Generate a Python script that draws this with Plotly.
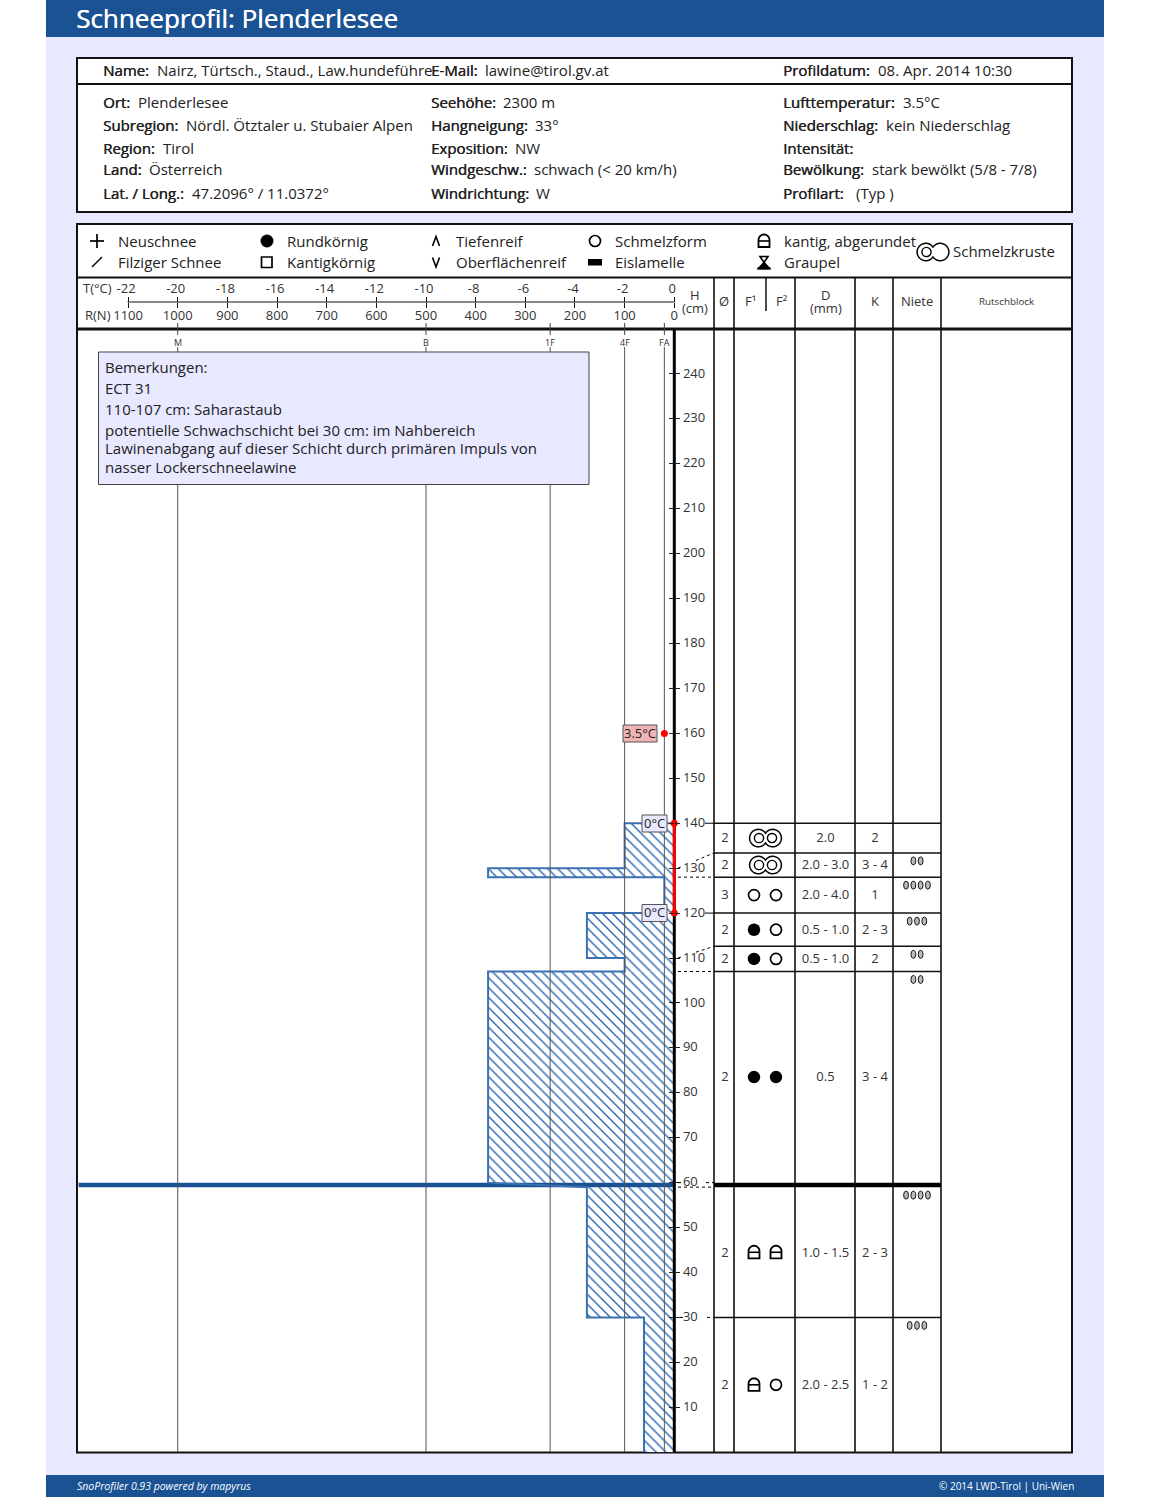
import math
import plotly.graph_objects as go

W, H = 1150, 1497
PAGE_BG = '#e8e8ff'; BLUE = '#1a5294'; INK = '#222222'; FONT = 'Open Sans'

# ---------- data ----------
layer_tops = [140, 130, 128, 120, 110, 107, 59, 30]
layer_bottoms = [130, 128, 120, 110, 107, 60, 30, 0]
layer_hardness = [100, 375, 20, 176, 100, 375, 176, 61]
lamella_top = [60]
lamella_bottom = [59]
lamella_hardness = [1200]

hardness_names = ['M', 'B', '1F', '4F', 'FA']
hardness_values = [1000, 500, 250, 100, 20]

temp_heights = [140, 120]
temp_values = [0, 0]
air_height = [160]
air_position = [-0.4]

row_tops = [140, 133.4, 128, 120, 112.6, 107, 59, 30]
row_bottoms = [133.4, 128, 120, 112.6, 107, 60, 30, 0]
row_diam = ['2', '2', '3', '2', '2', '2', '2', '2']
row_f1 = ['crust', 'crust', 'melt', 'round', 'round', 'round', 'facet', 'facet']
row_f2 = ['', '', 'melt', 'melt', 'melt', 'round', 'facet', 'melt']
row_d = ['2.0', '2.0 - 3.0', '2.0 - 4.0', '0.5 - 1.0', '0.5 - 1.0', '0.5', '1.0 - 1.5', '2.0 - 2.5']
row_k = ['2', '3 - 4', '1', '2 - 3', '2', '3 - 4', '2 - 3', '1 - 2']
row_niete = [0, 2, 4, 3, 2, 2, 4, 3]

r_ticks = [1100, 1000, 900, 800, 700, 600, 500, 400, 300, 200, 100, 0]
t_ticks = [-22, -20, -18, -16, -14, -12, -10, -8, -6, -4, -2, 0]
t_labels = ['-22', '-20', '-18', '-16', '-14', '-12', '-10', '-8', '-6', '-4', '-2', '0']
h_ticks = list(range(10, 250, 10))

remarks = ['Bemerkungen:', 'ECT 31', '110-107 cm: Saharastaub',
           'potentielle Schwachschicht bei 30 cm: im Nahbereich',
           'Lawinenabgang auf dieser Schicht durch primären Impuls von',
           'nasser Lockerschneelawine']
remark_y = [367, 388, 409, 430, 448, 467]

info = [
    (103, 71, 'Name:', 157, 'Nairz, Türtsch., Staud., Law.hundeführe'),
    (431, 71, 'E-Mail:', 485, 'lawine@tirol.gv.at'),
    (783, 71, 'Profildatum:', 878, '08. Apr. 2014 10:30'),
    (103, 103, 'Ort:', 138, 'Plenderlesee'),
    (103, 125, 'Subregion:', 186, 'Nördl. Ötztaler u. Stubaier Alpen'),
    (103, 148, 'Region:', 163, 'Tirol'),
    (103, 170, 'Land:', 149, 'Österreich'),
    (103, 193, 'Lat. / Long.:', 192, '47.2096° / 11.0372°'),
    (431, 103, 'Seehöhe:', 503, '2300 m'),
    (431, 125, 'Hangneigung:', 535, '33°'),
    (431, 148, 'Exposition:', 515, 'NW'),
    (431, 170, 'Windgeschw.:', 534, 'schwach (< 20 km/h)'),
    (431, 193, 'Windrichtung:', 536, 'W'),
    (783, 103, 'Lufttemperatur:', 903, '3.5°C'),
    (783, 125, 'Niederschlag:', 886, 'kein Niederschlag'),
    (783, 148, 'Intensität:', 860, ''),
    (783, 170, 'Bewölkung:', 872, 'stark bewölkt (5/8 - 7/8)'),
    (783, 193, 'Profilart:', 856, '(Typ )'),
]

legend_items = [
    (118, 241, 'Neuschnee'), (118, 262, 'Filziger Schnee'),
    (287, 241, 'Rundkörnig'), (287, 262, 'Kantigkörnig'),
    (456, 241, 'Tiefenreif'), (456, 262, 'Oberflächenreif'),
    (615, 241, 'Schmelzform'), (615, 262, 'Eislamelle'),
    (784, 241, 'kantig, abgerundet'), (784, 262, 'Graupel'),
    (953, 251, 'Schmelzkruste'),
]

# ---------- geometry ----------
Y0, PX_CM = 1452.2, 4.4926
PLOT_TOP, PLOT_L, PLOT_R = 330, 78.4, 674.3
PX_N = (PLOT_R - PLOT_L) / 1200
PAD = 4  # room right of zero so the axis line and temperature line are not clipped
TBL_L, TBL_R = 714, 941
COLS = [714, 734, 795, 855, 893, 941]
H_MAX = (Y0 - PLOT_TOP) / PX_CM
X_DIAM, X_F1, X_F2, X_D, X_K, X_N = 725, 754, 776, 825.5, 875, 917


def fx(px): return px / W
def fy(py): return 1 - py / H
def hpx(h): return Y0 - h * PX_CM


shapes, annos = [], []


def rect(x0, y0, x1, y1, fill=None, line=None, lw=1, layer='below'):
    shapes.append(dict(type='rect', xref='paper', yref='paper', x0=fx(x0), x1=fx(x1), y0=fy(y0), y1=fy(y1),
                       fillcolor=fill or 'rgba(0,0,0,0)', line=dict(color=line or 'rgba(0,0,0,0)', width=lw if line else 0),
                       layer=layer))


def line(x0, y0, x1, y1, color='black', lw=1, dash='solid', layer='above'):
    shapes.append(dict(type='line', xref='paper', yref='paper', x0=fx(x0), x1=fx(x1), y0=fy(y0), y1=fy(y1),
                       line=dict(color=color, width=lw, dash=dash), layer=layer))


def ellipse(cx, cy, rx, ry, fill=None, lcolor='black', lw=1.6):
    shapes.append(dict(type='circle', xref='paper', yref='paper', x0=fx(cx - rx), x1=fx(cx + rx), y0=fy(cy + ry),
                       y1=fy(cy - ry), fillcolor=fill or 'rgba(0,0,0,0)', line=dict(color=lcolor, width=lw), layer='above'))


def poly(pts, close=True, fill=None, lw=1.6, color='black'):
    d = 'M' + ' L'.join(f'{fx(a):.6f},{fy(b):.6f}' for a, b in pts) + (' Z' if close else '')
    shapes.append(dict(type='path', xref='paper', yref='paper', path=d,
                       fillcolor=fill or 'rgba(0,0,0,0)', line=dict(color=color, width=lw), layer='above'))


def txt(x, y, s, size=15, color=INK, anchor='left', bold=False, italic=False):
    font = dict(family=FONT, size=size, color=color)
    if bold: font['shadow'] = f'0.4px 0 0 {color}'
    if italic: font['style'] = 'italic'
    annos.append(dict(xref='paper', yref='paper', x=fx(x), y=fy(y), text=s, showarrow=False, font=font,
                      xanchor=anchor, yanchor='middle', borderpad=0, borderwidth=0))


def facet_round(cx, cy):
    pts = [(cx - 5.5, cy + 6), (cx + 5.5, cy + 6), (cx + 5.5, cy - 1)]
    for i in range(0, 13):
        a = i / 12 * math.pi
        pts.append((cx + 5.5 * math.cos(a), cy - 1 - 5.5 * math.sin(a)))
    pts.append((cx - 5.5, cy + 6))
    poly(pts, lw=1.8)
    line(cx - 5.5, cy, cx + 5.5, cy, lw=1.6)


def melt_crust(cx, cy, both=True):
    R, d, pts = 8.7, 7.2, []
    a0 = math.acos(d / R)
    n = 40
    for i in range(n + 1):
        a = -(math.pi - a0) + (2 * math.pi - 2 * a0) * i / n
        pts.append((cx + d + R * math.cos(a), cy + R * math.sin(a)))
    for i in range(n + 1):
        a = a0 + (2 * math.pi - 2 * a0) * i / n
        pts.append((cx - d + R * math.cos(a), cy + R * math.sin(a)))
    poly(pts, lw=1.5)
    ellipse(cx - 6.5, cy, 4.6, 4.6, lw=1.4)
    if both:
        ellipse(cx + 6.5, cy, 4.6, 4.6, lw=1.4)


# ---------- page furniture ----------
rect(46, 0, 1104, 1497, fill=PAGE_BG)
rect(46, 0, 1104, 37, fill=BLUE)
rect(46, 1475, 1104, 1497, fill=BLUE)
rect(77, 58, 1072, 212, fill='white', line='#111111', lw=2)
rect(77, 224, 1072, 1452.5, fill='white', line='#111111', lw=2)
line(77, 84, 1072, 84, color='#111111', lw=2, layer='below')
line(77, 277.5, 1072, 277.5, color='#111111', lw=2, layer='below')
line(77, 329, 1072, 329, color='#111111', lw=3, layer='below')
for c in COLS:
    line(c, 277, c, 1452, color='#111111', lw=1.6)
line(766, 277, 766, 311, color='#111111', lw=1.5)
line(127.6, 302, 674.3, 302, color='#111111', lw=1.2)

# row separators of the table, on the height axis
for t in sorted(set(row_tops) - {59}):
    shapes.append(dict(type='line', xref='paper', yref='y', x0=fx(TBL_L), x1=fx(TBL_R), y0=t, y1=t,
                       line=dict(color='#111111', width=1.5), layer='above'))
# ice lamella in the table
shapes.append(dict(type='rect', xref='paper', yref='y', x0=fx(TBL_L), x1=fx(TBL_R), y0=lamella_bottom[0], y1=lamella_top[0],
                   fillcolor='black', line=dict(width=0), layer='above'))


# connectors between axis and table; the part behind a height label is left out
def connector(h, r, spans, dash='3px,3px'):
    for a, b in spans:
        ya = h + (r - h) * (a - 678) / 36
        yb = h + (r - h) * (b - 678) / 36
        shapes.append(dict(type='line', xref='paper', yref='y', x0=fx(a), x1=fx(b), y0=ya, y1=yb,
                           line=dict(color='black', width=1, dash=dash), layer='above'))


connector(130, 133.4, [(678, 683), (696, 714)])
connector(110, 112.6, [(678, 683), (696, 714)])
connector(128, 128, [(678, 714)])
connector(107, 107, [(678, 714)])
connector(60, 60, [(678, 682), (706, 714)])
connector(59, 59, [(678, 714)])
connector(30, 30, [(680, 684), (707, 714)])
connector(120, 120, [(705, 714)], dash='solid')
connector(140, 140, [(705, 714)], dash='solid')

# ---------- header text ----------
txt(76, 18, 'Schneeprofil: Plenderlesee', size=26, color='white', bold=True)
for x, y, lab, vx, val in info:
    txt(x, y - 0.5, lab, size=15, bold=True)
    if val:
        txt(vx, y - 0.5, val, size=15)

# legend symbols
for x, y, s in legend_items:
    txt(x, y, s, size=15)
line(90, 241, 104, 241, lw=1.7); line(97, 234, 97, 248, lw=1.7)
line(92, 267, 102, 257, lw=1.4)
ellipse(267, 241, 6.2, 6.2, fill='black', lw=0.5)
rect(261.5, 257, 272, 267.5, line='black', lw=1.7, layer='above')
poly([(432.5, 246), (436, 236.5), (439.5, 246)], close=False, lw=1.6)
poly([(432.5, 257.5), (436, 267), (439.5, 257.5)], close=False, lw=1.6)
ellipse(595, 241, 5.5, 5.5, lw=1.7)
rect(588, 259, 602, 265.5, fill='black', layer='above')
facet_round(764, 241)
poly([(760, 256.5), (768, 256.5), (764, 262.5)], close=True, lw=1.6)
poly([(764, 262.5), (769.5, 268.5), (758.5, 268.5)], close=True, lw=1.6, fill='black')
line(757.5, 268.5, 770.5, 268.5, lw=2.2)
melt_crust(933, 252, both=False)

# axis header
HEAD = '#333333'
txt(83, 288, 'T(°C)', size=13, color=HEAD)
txt(85, 315, 'R(N)', size=13, color=HEAD)
txt(695, 294.5, 'H', size=13, anchor='center', color=HEAD)
txt(695, 307.5, '(cm)', size=13, anchor='center', color=HEAD)
txt(724, 301, 'Ø', size=13, anchor='center', color=HEAD)
txt(750, 301, 'F¹', size=13, anchor='center', color=HEAD)
txt(781, 301, 'F²', size=13, anchor='center', color=HEAD)
txt(825.5, 294.5, 'D', size=13, anchor='center', color=HEAD)
txt(825.5, 307.5, '(mm)', size=13, anchor='center', color=HEAD)
txt(875, 301, 'K', size=13, anchor='center', color=HEAD)
txt(917, 301, 'Niete', size=13, anchor='center', color=HEAD)
txt(1007, 301, 'Rutschblock', size=9.8, anchor='center', color=HEAD)

# hardness ticks
for n, v in zip(hardness_names, hardness_values):
    px = PLOT_R - v * PX_N
    line(px, 323, px, 335, color='#444444', lw=1)
    txt(px, 342, n, size=9, anchor='center', color=HEAD)

# remark box
rect(98.5, 352, 589, 484.5, fill=PAGE_BG, line='#444444', lw=1, layer='above')
for y, s in zip(remark_y, remarks):
    txt(105, y, s, size=15)

# footer
txt(77, 1485.5, 'SnoProfiler 0.93 powered by mapyrus', size=10.5, color='white', italic=True)
txt(1074, 1485.5, '© 2014 LWD-Tirol | Uni-Wien', size=10, color='white', anchor='right')

# temperature labels
for s, y, x0, x1, bg in [('3.5°C', 733.5, 623, 657, '#f0b4b4'), ('0°C', 823.5, 642, 667, PAGE_BG), ('0°C', 913, 642, 667, PAGE_BG)]:
    rect(x0, y - 8.5, x1, y + 8.5, fill=bg, line='#555555', lw=1, layer='above')
    txt((x0 + x1) / 2, y - 0.5, s, size=13, anchor='center')

# grain symbols drawn as outlines
rows_cy = [hpx((a + b) / 2) for a, b in zip(row_tops, row_bottoms)]
for g1, g2, cy in zip(row_f1, row_f2, rows_cy):
    if g1 == 'crust':
        melt_crust(765.5, cy)
    for g, x in ((g1, X_F1), (g2, X_F2)):
        if g == 'facet':
            facet_round(x, cy)

# niete
for n, t in zip(row_niete, row_tops):
    for i in range(n):
        cx = X_N + (i - (n - 1) / 2) * 7.3
        ellipse(cx, hpx(t) + 8, 2.4, 4, fill='#bbbbbb', lw=0.9)

# ---------- traces ----------
fig = go.Figure()

centers = [(a + b) / 2 for a, b in zip(layer_tops, layer_bottoms)]
widths = [a - b for a, b in zip(layer_tops, layer_bottoms)]
fig.add_trace(go.Bar(
    y=centers, x=layer_hardness, width=widths, orientation='h', base=0, showlegend=False,
    marker=dict(color='white', line=dict(width=0),
                pattern=dict(shape='\\', fgcolor='#1f5fae', bgcolor='white', fillmode='replace',
                             fgopacity=1, size=7, solidity=0.19)),
    xaxis='x', yaxis='y'))
fig.add_trace(go.Bar(
    y=[(lamella_top[0] + lamella_bottom[0]) / 2], x=lamella_hardness, width=[lamella_top[0] - lamella_bottom[0]],
    orientation='h', base=0, showlegend=False, marker=dict(color=BLUE, line=dict(width=0)), xaxis='x', yaxis='y'))

ox, oy = [0], [layer_tops[0]]
for t, b, r in zip(layer_tops, layer_bottoms, layer_hardness):
    ox += [r, r]
    oy += [t, b]
fig.add_trace(go.Scatter(x=ox, y=oy, mode='lines', line=dict(color='#3b70b2', width=2), showlegend=False,
                         xaxis='x', yaxis='y'))

for v in hardness_values:
    fig.add_trace(go.Scatter(x=[v, v], y=[0, (Y0 - 347) / PX_CM], mode='lines', line=dict(color='#555555', width=1),
                             showlegend=False, xaxis='x', yaxis='y'))

fig.add_trace(go.Scatter(x=[0, 0], y=[0, H_MAX], mode='lines', line=dict(color='black', width=3), cliponaxis=False,
                         showlegend=False, xaxis='x', yaxis='y'))
fig.add_trace(go.Scatter(x=temp_values, y=temp_heights, mode='lines+markers', line=dict(color='#ff0000', width=3),
                         marker=dict(color='#ff0000', size=7), cliponaxis=False, showlegend=False, xaxis='x2', yaxis='y'))
fig.add_trace(go.Scatter(x=air_position, y=air_height, mode='markers', marker=dict(color='#ff0000', size=7),
                         showlegend=False, xaxis='x2', yaxis='y'))

row_centers = [(a + b) / 2 for a, b in zip(row_tops, row_bottoms)]
tfont = dict(family=FONT, size=13, color='#333333')
for col_x, col in ((X_DIAM, row_diam), (X_D, row_d), (X_K, row_k)):
    fig.add_trace(go.Scatter(x=[col_x] * len(col), y=[c - 0.25 for c in row_centers], text=col, mode='text', textfont=tfont,
                             textposition='middle center', showlegend=False, xaxis='x3', yaxis='y'))

for col_x, col in ((X_F1, row_f1), (X_F2, row_f2)):
    idx = [i for i, g in enumerate(col) if g == 'round']
    fig.add_trace(go.Scatter(x=[col_x] * len(idx), y=[row_centers[i] for i in idx], mode='markers',
                             marker=dict(symbol='circle', size=12.5, color='black', line=dict(width=0)),
                             showlegend=False, xaxis='x3', yaxis='y'))
    idx = [i for i, g in enumerate(col) if g == 'melt']
    fig.add_trace(go.Scatter(x=[col_x] * len(idx), y=[row_centers[i] for i in idx], mode='markers',
                             marker=dict(symbol='circle-open', size=11, color='black', line=dict(width=1.7, color='black')),
                             showlegend=False, xaxis='x3', yaxis='y'))

fig.add_trace(go.Scatter(x=[None], y=[None], showlegend=False, xaxis='x', yaxis='y2'))

tickfont = dict(family=FONT, size=13, color='#333333')
fig.update_layout(
    width=W, height=H, margin=dict(l=0, r=0, t=0, b=0, autoexpand=False), autosize=False,
    paper_bgcolor='white', plot_bgcolor='rgba(0,0,0,0)', barmode='overlay', showlegend=False,
    shapes=shapes, annotations=annos, font=dict(family=FONT),
    xaxis=dict(domain=[PLOT_L / W, (PLOT_R + PAD) / W], range=[1200, -PAD / PX_N], anchor='free', position=fy(302), side='bottom',
               tickmode='array', tickvals=r_ticks, ticks='outside', ticklen=5, tickwidth=1, tickcolor='#111111',
               tickfont=tickfont, showline=False, showgrid=False, zeroline=False, ticklabelstandoff=-4),
    xaxis2=dict(overlaying='x', range=[-24, PAD / (PX_N * 50)], anchor='free', position=fy(302), side='top',
                tickmode='array', tickvals=t_ticks, ticktext=t_labels, ticks='outside', ticklen=5, tickwidth=1,
                tickcolor='#111111', tickfont=tickfont, showline=False, showgrid=False, zeroline=False,
                ticklabelstandoff=-1, ticklabelshift=-2),
    xaxis3=dict(domain=[TBL_L / W, TBL_R / W], range=[TBL_L, TBL_R], visible=False, anchor='y'),
    yaxis=dict(domain=[fy(Y0), fy(PLOT_TOP)], range=[0, H_MAX], anchor='free', position=PLOT_R / W, side='right', tickmode='array',
               tickvals=h_ticks, ticks='outside', ticklen=5, tickwidth=1, tickcolor='#222222', tickfont=tickfont,
               showline=False, showgrid=False, zeroline=False, ticklabelstandoff=0, ticklabelshift=-1),
    yaxis2=dict(overlaying='y', range=[0, H_MAX], anchor='free', position=PLOT_R / W, side='right', tickmode='array', tickvals=h_ticks,
                ticks='inside', ticklen=5, tickwidth=1, tickcolor='#222222', showticklabels=False, showline=False,
                showgrid=False, zeroline=False),
)

fig.write_html('out.html', config=dict(displayModeBar=False),
               post_script="document.body.style.margin='0';document.body.style.overflow='hidden';")
